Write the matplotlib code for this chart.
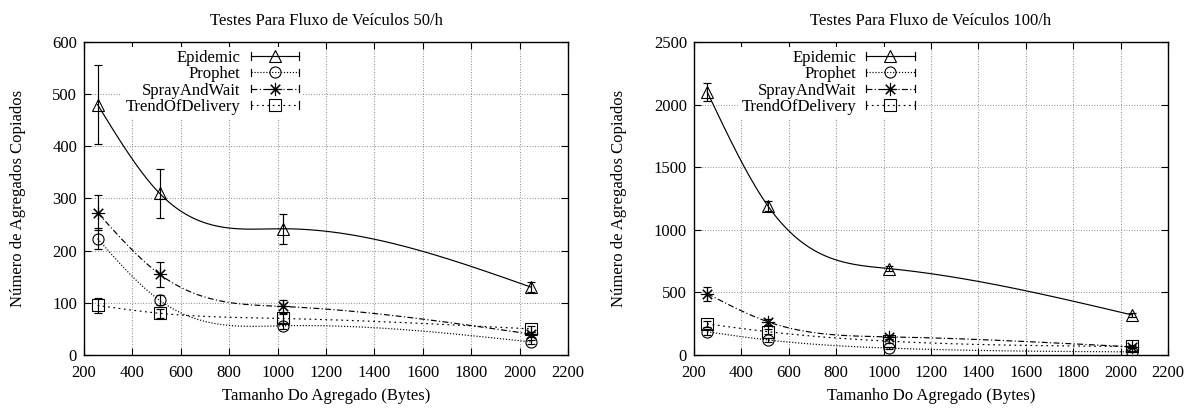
import numpy as np
import matplotlib
matplotlib.use('Agg')
import matplotlib.pyplot as plt
from matplotlib.lines import Line2D
from matplotlib.legend_handler import HandlerLine2D

plt.rcParams['font.family'] = ['Liberation Serif', 'DejaVu Serif']
plt.rcParams['font.size'] = 12

# Tamanho do agregado (bytes)
sizes = [256, 512, 1024, 2048]
protocols = ['Epidemic', 'Prophet', 'SprayAndWait', 'TrendOfDelivery']

# Fluxo 50/h
epidemic_50 = [480, 310, 242, 130]
epidemic_50_err = [76, 47, 29, 10]
prophet_50 = [223, 105, 56, 25]
prophet_50_err = [20, 10, 6, 4]
spray_50 = [273, 155, 93, 40]
spray_50_err = [34, 24, 12, 5]
trend_50 = [95, 80, 70, 50]
trend_50_err = [14, 9, 8, 6]

# Fluxo 100/h
epidemic_100 = [2100, 1190, 690, 320]
epidemic_100_err = [70, 40, 20, 15]
prophet_100 = [185, 120, 55, 25]
prophet_100_err = [25, 15, 10, 5]
spray_100 = [490, 265, 145, 65]
spray_100_err = [55, 25, 15, 8]
trend_100 = [248, 186, 110, 68]
trend_100_err = [25, 20, 15, 8]

styles = {
    'Epidemic': dict(ls='-', marker='^', ms=8),
    'Prophet': dict(ls=(0, (1, 1.5)), marker='o', ms=8),
    'SprayAndWait': dict(ls=(0, (5, 2, 1, 2)), marker=(8, 2, 0), ms=9.5),
    'TrendOfDelivery': dict(ls=(0, (1.5, 3)), marker='s', ms=8),
}


def csplines(x, y, n=300):
    # natural cubic spline, like gnuplot "smooth csplines"
    x = np.asarray(x, float)
    y = np.asarray(y, float)
    k = len(x)
    h = np.diff(x)
    A = np.zeros((k, k))
    r = np.zeros(k)
    A[0, 0] = A[-1, -1] = 1
    for i in range(1, k - 1):
        A[i, i - 1] = h[i - 1]
        A[i, i] = 2 * (h[i - 1] + h[i])
        A[i, i + 1] = h[i]
        r[i] = 6 * ((y[i + 1] - y[i]) / h[i] - (y[i] - y[i - 1]) / h[i - 1])
    m = np.linalg.solve(A, r)
    xs = np.linspace(x[0], x[-1], n)
    idx = np.clip(np.searchsorted(x, xs) - 1, 0, k - 2)
    t0 = x[idx]
    t1 = x[idx + 1]
    hh = t1 - t0
    a = (t1 - xs) / hh
    b = (xs - t0) / hh
    ys = a * y[idx] + b * y[idx + 1] + ((a ** 3 - a) * m[idx] + (b ** 3 - b) * m[idx + 1]) * hh ** 2 / 6
    return xs, ys


class CapHandler(HandlerLine2D):
    # legend sample with small end caps, as gnuplot draws for error lines
    def create_artists(self, legend, orig_handle, xdescent, ydescent,
                       width, height, fontsize, trans):
        arts = super().create_artists(legend, orig_handle, xdescent, ydescent,
                                      width, height, fontsize, trans)
        y = height / 2 - ydescent
        for x in (-xdescent, -xdescent + width):
            cap = Line2D([x, x], [y - 2.6, y + 2.6], color='black', lw=0.85)
            cap.set_transform(trans)
            arts.append(cap)
        return arts


def draw(ax, series, title, ymax, ystep, legend_x):
    for name, (vals, errs) in zip(protocols, series):
        st = styles[name]
        xs, ys = csplines(sizes, vals)
        ax.plot(xs, ys, color='black', lw=0.85, ls=st['ls'], zorder=3)
        ax.errorbar(sizes, vals, yerr=errs, fmt='none', ecolor='black',
                    elinewidth=0.85, capsize=3, capthick=0.85, zorder=4)
        ax.plot(sizes, vals, ls='none', marker=st['marker'], ms=st['ms'],
                mfc='none', mec='black', mew=0.8, zorder=5)

    ax.set_xlim(200, 2200)
    ax.set_xticks(np.arange(200, 2201, 200))
    ax.set_ylim(0, ymax)
    ax.set_yticks(np.arange(0, ymax + 1, ystep))
    ax.grid(True, color='0.4', ls=(0, (1, 2.2)), lw=0.6)
    ax.set_axisbelow(True)
    ax.tick_params(direction='in', top=True, right=True, length=5, width=0.8)
    ax.tick_params(axis='x', pad=7)
    ax.tick_params(axis='y', pad=5)
    for s in ax.spines.values():
        s.set_linewidth(1)
    ax.set_title(title, fontsize=12, pad=12)
    ax.set_xlabel('Tamanho Do Agregado (Bytes)', labelpad=5)
    ax.set_ylabel('Número de Agregados Copiados', labelpad=19)

    handles = [Line2D([], [], color='black', lw=0.85, ls=styles[n]['ls'],
                      marker=styles[n]['marker'], ms=styles[n]['ms'],
                      mfc='none', mec='black', mew=0.8)
               for n in protocols]
    leg = ax.legend(handles, protocols, loc='upper right', bbox_to_anchor=(legend_x, 1.012),
                    markerfirst=False, frameon=True, fancybox=False, edgecolor='none',
                    framealpha=1, handlelength=2.9, handletextpad=0.6,
                    labelspacing=0.02, borderpad=0.2, fontsize=12,
                    handler_map={Line2D: CapHandler()})
    leg.set_zorder(6)


fig = plt.figure(figsize=(11.95, 4.08), dpi=100)
ax1 = fig.add_axes([84 / 1195, 53 / 408, 484 / 1195, 313 / 408])
ax2 = fig.add_axes([694 / 1195, 53 / 408, 474 / 1195, 313 / 408])

draw(ax1, [(epidemic_50, epidemic_50_err), (prophet_50, prophet_50_err),
           (spray_50, spray_50_err), (trend_50, trend_50_err)],
     'Testes Para Fluxo de Veículos 50/h', 600, 100, 0.468)
draw(ax2, [(epidemic_100, epidemic_100_err), (prophet_100, prophet_100_err),
           (spray_100, spray_100_err), (trend_100, trend_100_err)],
     'Testes Para Fluxo de Veículos 100/h', 2500, 500, 0.49)

fig.savefig('out.png', dpi=100)
